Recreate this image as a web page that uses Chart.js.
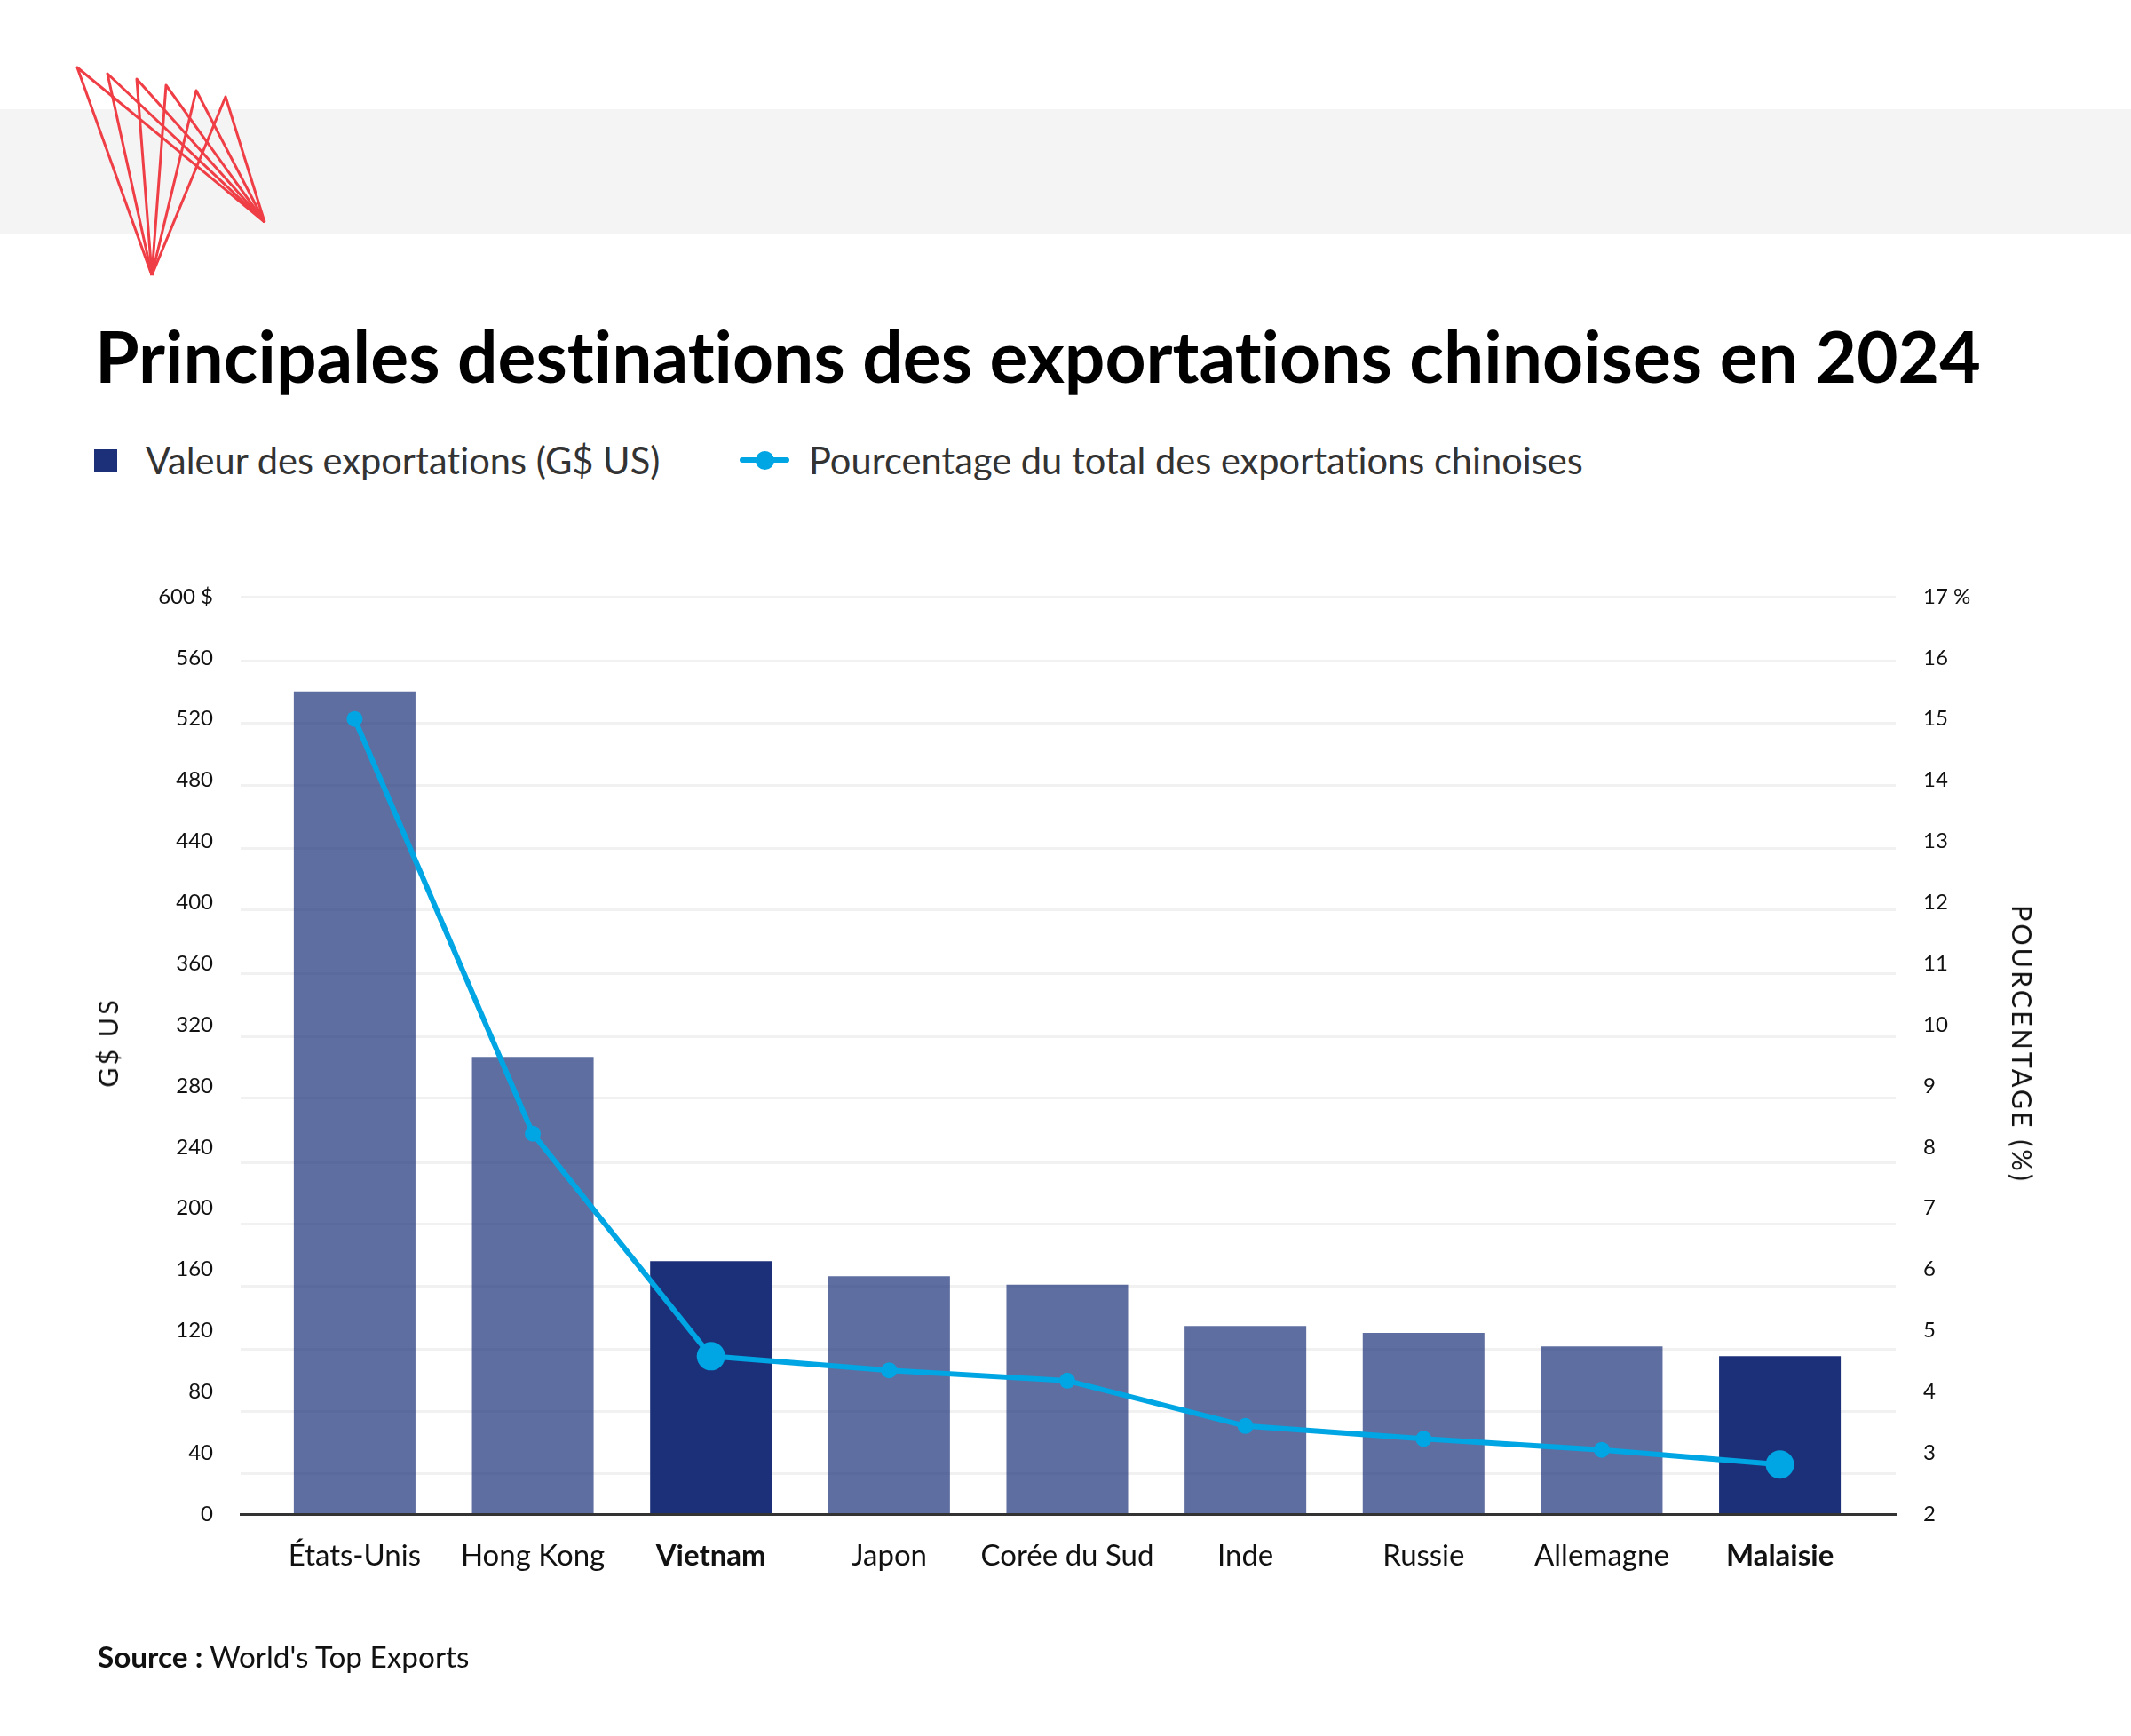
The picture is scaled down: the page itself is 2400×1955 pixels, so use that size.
<!DOCTYPE html>
<html lang="fr">
<head>
<meta charset="utf-8">
<title>Principales destinations des exportations chinoises en 2024</title>
<script src="https://cdn.jsdelivr.net/npm/chart.js@4"></script>
<style>
  html, body { margin: 0; background: #fff; }
  #page { position: relative; width: 2400px; height: 1955px; overflow: hidden; font-family: Lato, sans-serif; color: #000; font-variant-ligatures: none; }
  #page > * { position: absolute; }
  #band { left: 0; top: 123px; width: 2400px; height: 141px; background: #f4f4f4; }
  #logo { left: 0; top: 0; }
  #title { left: 107px; top: 352px; font-size: 80.35px; font-weight: 700; line-height: 96px; white-space: nowrap; }
  .lg-text { top: 498px; font-size: 41.6px; line-height: 40px; color: #333; white-space: nowrap; }
  #lg-square { left: 106px; top: 506px; width: 26px; height: 26px; background: #1b3078; }
  #lg-line { left: 833px; top: 515px; width: 56px; height: 6px; border-radius: 3px; background: #00a5e3; }
  #lg-dot { left: 851px; top: 508px; width: 21px; height: 21px; border-radius: 50%; background: #00a5e3; }
  .axis-title { font-size: 30.4px; letter-spacing: 3px; white-space: nowrap; color: #111; transform: translate(-50%, -50%) rotate(-90deg); }
  #source { left: 110px; top: 1846px; font-size: 33.3px; line-height: 38px; color: #111; white-space: nowrap; }
  canvas { left: 0; top: 0; }
</style>
</head>
<body>
<div id="page">
  <div id="band"></div>
  <svg id="logo" width="320" height="330" fill="none" stroke="#ef3e46" stroke-width="3" stroke-linejoin="round"></svg>
  <div id="title">Principales destinations des exportations chinoises en 2024</div>
  <div id="lg-square"></div>
  <div class="lg-text" style="left:164px">Valeur des exportations (G$ US)</div>
  <div id="lg-line"></div>
  <div id="lg-dot"></div>
  <div class="lg-text" style="left:911px">Pourcentage du total des exportations chinoises</div>
  <canvas id="chart" width="2400" height="1955"></canvas>
  <div class="axis-title" style="left:121px;top:1174px">G$ US</div>
  <div class="axis-title" style="left:2278px;top:1176px;transform:translate(-50%,-50%) rotate(90deg)">POURCENTAGE (%)</div>
  <div id="source"><b>Source :</b> World's Top Exports</div>
</div>
<script>
// ─── Data ─────────────────────────────────────────────────────────
const categories = ['États-Unis', 'Hong Kong', 'Vietnam', 'Japon', 'Corée du Sud', 'Inde', 'Russie', 'Allemagne', 'Malaisie'];
const exportValues = [538, 299, 165.4, 155.5, 150, 123, 118.5, 109.7, 103.3];
const sharePercent = [15, 8.22, 4.58, 4.35, 4.18, 3.44, 3.23, 3.05, 2.81];
const highlighted = ['Vietnam', 'Malaisie'];
// the printed grid does not sit on the tick labels, so it gets its own values
const gridValues = [26.3, 67, 108, 148.8, 189.4, 230, 272, 312, 353.7, 395, 435.6, 476.3, 517.5, 558, 600];

const NAVY = '#1b3078';
const NAVY_SOFT = 'rgba(27,48,120,0.7)';
const CYAN = '#00a5e3';
const isHot = i => highlighted.includes(categories[i]);

// ─── Logo ─────────────────────────────────────────────────────────
const logoTops = [[87, 76], [121, 83], [154, 89], [187, 96], [221, 102], [254, 109]];
document.getElementById('logo').innerHTML = logoTops
  .map(([x, y]) => `<path d="M171 310L${x} ${y}L298 250"/>`).join('');

// ─── Chart ────────────────────────────────────────────────────────
new Chart(document.getElementById('chart'), {
  data: {
    datasets: [
      {
        type: 'line',
        order: 1,
        yAxisID: 'yShare',
        data: sharePercent.map((y, x) => ({ x, y })),
        borderColor: CYAN,
        backgroundColor: CYAN,
        borderWidth: 6,
        tension: 0,
        pointRadius: c => isHot(c.dataIndex) ? 16 : 9,
        pointBorderWidth: 0,
      },
      {
        type: 'bar',
        order: 2,
        yAxisID: 'y',
        data: exportValues.map((y, x) => ({ x, y })),
        backgroundColor: c => isHot(c.dataIndex) ? NAVY : NAVY_SOFT,
        categoryPercentage: 1,
        barPercentage: 0.683,
      },
    ],
  },
  options: {
    responsive: false,
    animation: false,
    devicePixelRatio: 1,
    layout: { padding: { top: 672 } },
    plugins: { legend: { display: false }, tooltip: { enabled: false } },
    scales: {
      x: {
        type: 'linear',
        offset: false, // bars would otherwise widen the range past min/max
        min: -0.64,
        max: 8.65,
        afterBuildTicks: s => { s.ticks = categories.map((_, value) => ({ value })); },
        afterFit: s => { s.height = 250; },
        grid: { display: false },
        border: { color: '#333', width: 3, z: 1 },
        ticks: {
          autoSkip: false,
          maxRotation: 0,
          padding: 20,
          color: '#111',
          callback: v => categories[v],
          font: c => ({ family: 'Lato', size: 33, weight: c.tick && isHot(c.tick.value) ? 'bold' : 'normal' }),
        },
      },
      y: {
        position: 'left',
        min: 0,
        max: 600,
        afterFit: s => { s.width = 271; },
        grid: { display: false },
        border: { display: false },
        ticks: {
          stepSize: 40,
          padding: 23,
          color: '#111',
          font: { family: 'Lato', size: 24 },
          callback: v => v === 600 ? '600 $' : v,
        },
      },
      yGrid: {
        position: 'left',
        min: 0,
        max: 600,
        afterBuildTicks: s => { s.ticks = gridValues.map(value => ({ value })); },
        afterFit: s => { s.width = 0; },
        grid: { color: '#f1f1f1', lineWidth: 3, drawTicks: false },
        border: { display: false },
        ticks: { display: false },
      },
      yShare: {
        position: 'right',
        min: 2,
        max: 17,
        afterFit: s => { s.width = 265; },
        grid: { display: false },
        border: { display: false },
        ticks: {
          stepSize: 1,
          padding: 23,
          color: '#111',
          font: { family: 'Lato', size: 24 },
          callback: v => v === 17 ? '17 %' : v,
        },
      },
    },
  },
});
</script>
</body>
</html>
